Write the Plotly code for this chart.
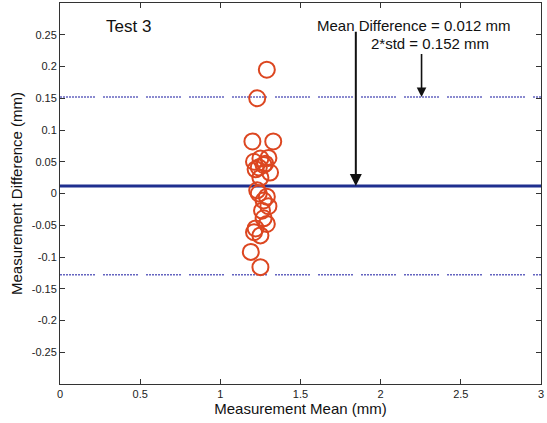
import plotly.graph_objects as go

# Bland-Altman data: mean of two measurements vs. their difference (mm)
meas_mean = [1.29, 1.23, 1.20, 1.33, 1.21, 1.25, 1.28, 1.30, 1.24, 1.31, 1.25,
             1.23, 1.29, 1.27, 1.24, 1.30, 1.26, 1.27, 1.22, 1.21, 1.25, 1.29,
             1.19, 1.25, 1.22, 1.27]
meas_diff = [0.195, 0.150, 0.082, 0.082, 0.050, 0.055, 0.047, 0.056, 0.041,
             0.033, 0.025, 0.005, -0.005, -0.011, 0.000, -0.020, -0.027,
             -0.039, -0.055, -0.061, -0.066, -0.048, -0.092, -0.116,
             0.038, 0.045]

mean_diff = 0.012
upper_limit = 0.152
lower_limit = -0.128

x_range = [0, 3]
y_range = [-0.3, 0.3]
x_ticks = [0, 0.5, 1, 1.5, 2, 2.5, 3]
x_labels = ["0", "0.5", "1", "1.5", "2", "2.5", "3"]
y_ticks = [0.25, 0.2, 0.15, 0.1, 0.05, 0, -0.05, -0.1, -0.15, -0.2, -0.25]
y_labels = ["0.25", "0.2", "0.15", "0.1", "0.05", "0", "-0.05", "-0.1",
            "-0.15", "-0.2", "-0.25"]

font = "Liberation Sans, Arial, sans-serif"

# dotted dashes: runs of fine dots separated by short gaps
dotted_dash = ",".join(["2px,1px"] * 11) + ",2px,8px"

fig = go.Figure()

# limits of agreement (dotted) and mean difference (solid)
for lim in (upper_limit, lower_limit):
    fig.add_trace(go.Scatter(
        x=x_range, y=[lim, lim], mode="lines",
        line=dict(color="#6464c0", width=1.6, dash=dotted_dash),
        hoverinfo="skip", showlegend=False))
fig.add_trace(go.Scatter(
    x=x_range, y=[mean_diff, mean_diff], mode="lines",
    line=dict(color="#1f2f8f", width=3),
    hoverinfo="skip", showlegend=False))

fig.add_trace(go.Scatter(
    x=meas_mean, y=meas_diff, mode="markers",
    marker=dict(symbol="circle-open", size=16, color="#dc4620",
                line=dict(width=2, color="#dc4620")),
    showlegend=False))

# arrows pointing at the mean line and the upper limit
fig.add_annotation(x=1.845, y=mean_diff, ax=1.845, ay=0.257,
                   xref="x", yref="y", axref="x", ayref="y",
                   showarrow=True, arrowhead=2, arrowsize=1.2,
                   arrowwidth=2, arrowcolor="#111111", text="")
fig.add_annotation(x=2.255, y=upper_limit, ax=2.255, ay=0.222,
                   xref="x", yref="y", axref="x", ayref="y",
                   showarrow=True, arrowhead=2, arrowsize=1.2,
                   arrowwidth=1.6, arrowcolor="#111111", text="")

fig.add_annotation(x=2.205, y=0.265, xref="x", yref="y", showarrow=False,
                   text="Mean Difference = 0.012 mm",
                   font=dict(family=font, size=15, color="#111111"))
fig.add_annotation(x=2.31, y=0.236, xref="x", yref="y", showarrow=False,
                   text="2*std = 0.152 mm",
                   font=dict(family=font, size=15, color="#111111"))
fig.add_annotation(x=0.43, y=0.263, xref="x", yref="y", showarrow=False,
                   text="Test 3",
                   font=dict(family=font, size=17, color="#111111"))

axis_common = dict(showline=True, linecolor="#333333", linewidth=1,
                   mirror="ticks", ticks="inside", ticklen=5,
                   tickcolor="#333333", showgrid=False, zeroline=False,
                   tickfont=dict(family=font, size=11, color="#222222"))

fig.update_xaxes(range=x_range, tickvals=x_ticks, ticktext=x_labels,
                 title=dict(text="Measurement Mean (mm)", standoff=4,
                            font=dict(family=font, size=15, color="#111111")),
                 **axis_common)
fig.update_yaxes(range=y_range, tickvals=y_ticks, ticktext=y_labels,
                 title=dict(text="Measurement Difference (mm)", standoff=5,
                            font=dict(family=font, size=15, color="#111111")),
                 **axis_common)

fig.update_layout(width=547, height=423,
                  margin=dict(l=60, r=6, t=3, b=39),
                  paper_bgcolor="white", plot_bgcolor="white")

fig.write_html("out.html")
